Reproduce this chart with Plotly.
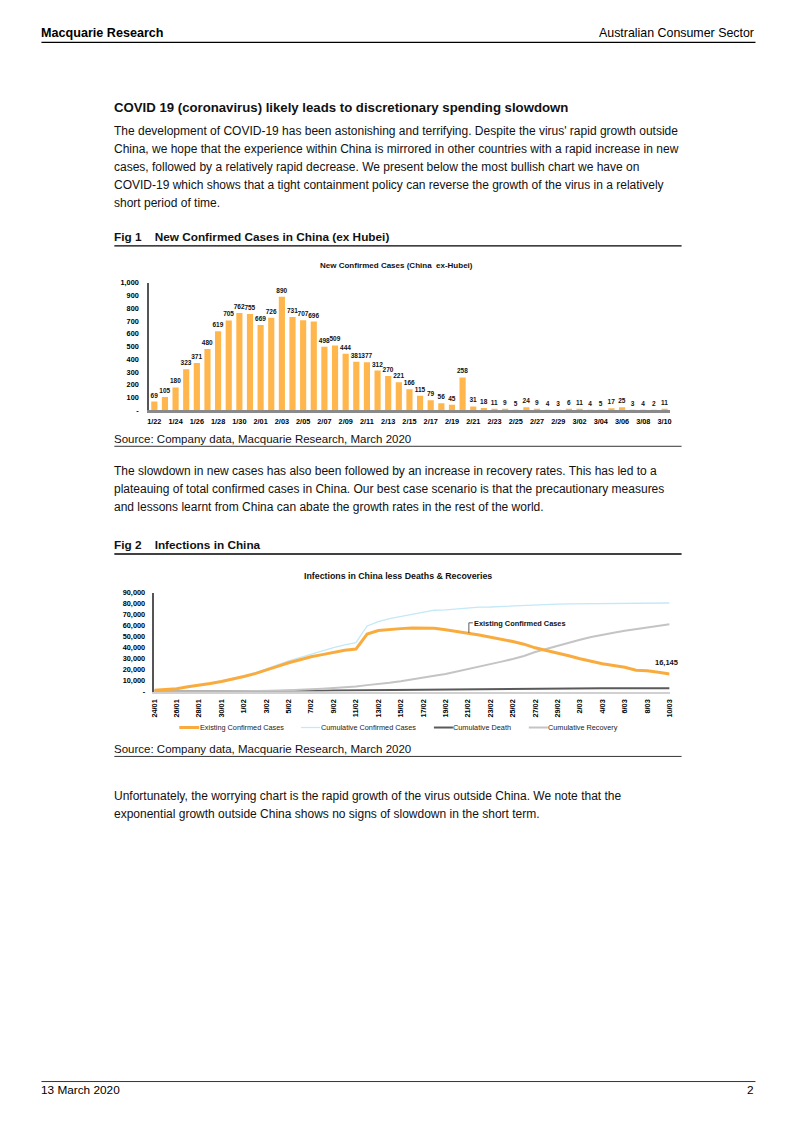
import plotly.graph_objects as go

W, H = 793, 1122

# ---------------- Fig 1 data ----------------
dates1 = ["1/22", "1/23", "1/24", "1/25", "1/26", "1/27", "1/28", "1/29", "1/30", "1/31",
          "2/01", "2/02", "2/03", "2/04", "2/05", "2/06", "2/07", "2/08", "2/09", "2/10",
          "2/11", "2/12", "2/13", "2/14", "2/15", "2/16", "2/17", "2/18", "2/19", "2/20",
          "2/21", "2/22", "2/23", "2/24", "2/25", "2/26", "2/27", "2/28", "2/29",
          "3/01", "3/02", "3/03", "3/04", "3/05", "3/06", "3/07", "3/08", "3/09", "3/10"]
new_cases = [69, 105, 180, 323, 371, 480, 619, 705, 762, 755,
             669, 726, 890, 731, 707, 696, 498, 509, 444, 381,
             377, 312, 270, 221, 166, 115, 79, 56, 45, 258,
             31, 18, 11, 9, 5, 24, 9, 4, 3,
             6, 11, 4, 5, 17, 25, 3, 4, 2, 11]
ticks1 = dates1[::2]
y1_vals = [0, 100, 200, 300, 400, 500, 600, 700, 800, 900, 1000]
y1_text = ["-", "100", "200", "300", "400", "500", "600", "700", "800", "900", "1,000"]

# ---------------- Fig 2 data ----------------
dates2 = ["24/01", "25/01", "26/01", "27/01", "28/01", "29/01", "30/01", "31/01",
          "1/02", "2/02", "3/02", "4/02", "5/02", "6/02", "7/02", "8/02", "9/02", "10/02",
          "11/02", "12/02", "13/02", "14/02", "15/02", "16/02", "17/02", "18/02", "19/02",
          "20/02", "21/02", "22/02", "23/02", "24/02", "25/02", "26/02", "27/02", "28/02",
          "29/02", "1/03", "2/03", "3/03", "4/03", "5/03", "6/03", "7/03", "8/03", "9/03",
          "10/03"]
cum_confirmed = [1287, 1975, 2744, 4515, 5974, 7711, 9692, 11791,
                 14380, 17205, 20438, 24324, 28018, 31161, 34546, 37198, 40171, 42638,
                 44653, 59804, 63851, 66492, 68500, 70548, 72436, 74185, 74576,
                 75465, 76288, 76936, 77150, 77658, 78064, 78497, 78824, 79251,
                 79824, 80026, 80151, 80270, 80409, 80552, 80651, 80695, 80735, 80754,
                 80778]
cum_death = [41, 56, 80, 106, 132, 170, 213, 259,
             304, 361, 425, 490, 563, 636, 722, 811, 908, 1016,
             1113, 1367, 1380, 1523, 1665, 1770, 1868, 2004, 2118,
             2236, 2345, 2442, 2592, 2663, 2715, 2744, 2788, 2835,
             2870, 2912, 2943, 2981, 3012, 3042, 3070, 3097, 3119, 3136,
             3158]
cum_recovery = [38, 49, 51, 60, 103, 124, 171, 243,
                328, 475, 632, 892, 1153, 1540, 2050, 2649, 3281, 3996,
                4740, 5911, 6723, 8096, 9419, 10844, 12552, 14376, 16155,
                18264, 20659, 22888, 24734, 27323, 29745, 32495, 36117, 39002,
                41625, 44462, 47204, 49856, 52045, 53726, 55404, 57065, 58600, 59897,
                61475]
existing = [1208, 1870, 2613, 4349, 5739, 7417, 9308, 11289,
            13748, 16369, 19381, 22942, 26302, 28985, 31774, 33738, 35982, 37626,
            38800, 52526, 55748, 56873, 57416, 57934, 58016, 57805, 56303,
            54965, 53284, 51606, 49824, 47672, 45604, 43258, 39919, 37414,
            35329, 32652, 30004, 27433, 25352, 23784, 22177, 19533, 19016, 17721,
            16145]
ticks2 = dates2[::2]
y2_vals = [0, 10000, 20000, 30000, 40000, 50000, 60000, 70000, 80000, 90000]
y2_text = ["-", "10,000", "20,000", "30,000", "40,000", "50,000", "60,000", "70,000",
           "80,000", "90,000"]
legend2 = ["Existing Confirmed Cases", "Cumulative Confirmed Cases", "Cumulative Death",
           "Cumulative Recovery"]

FONT = "Liberation Sans, Arial, sans-serif"
ORANGE_BAR = "#FFB74D"
ORANGE_LINE = "#F9AC3D"
BLUE = "#C3E8F8"
DARK = "#5A5A5A"
LIGHT = "#C4C4C4"

# page-pixel -> paper fraction (with small calibration for the capture)
OX, SX = 3.5, 0.99
OY, SY = 2.5, 0.9947


def X(px):
    return ((px - OX) / SX) / W


def Y(py):
    return 1 - ((py - OY) / SY) / H


fig = go.Figure()

fig.add_trace(go.Bar(
    x=dates1, y=new_cases, marker=dict(color=ORANGE_BAR, line=dict(width=0)),
    text=[str(v) for v in new_cases], textposition="outside", constraintext="none",
    textfont=dict(family=FONT, size=6.5, color="#111", weight="bold"),
    cliponaxis=False, xaxis="x", yaxis="y", showlegend=False, width=0.58))

fig.add_trace(go.Scatter(x=dates2, y=cum_confirmed, mode="lines",
                         line=dict(color=BLUE, width=1.3), xaxis="x2", yaxis="y2",
                         showlegend=False))
fig.add_trace(go.Scatter(x=dates2, y=cum_death, mode="lines",
                         line=dict(color=DARK, width=2), xaxis="x2", yaxis="y2",
                         showlegend=False))
fig.add_trace(go.Scatter(x=dates2, y=cum_recovery, mode="lines",
                         line=dict(color=LIGHT, width=2), xaxis="x2", yaxis="y2",
                         showlegend=False))
fig.add_trace(go.Scatter(x=dates2, y=existing, mode="lines",
                         line=dict(color=ORANGE_LINE, width=3), xaxis="x2", yaxis="y2",
                         showlegend=False))

tickfont_small = dict(family=FONT, size=7.3, color="#000", weight="bold")

fig.update_layout(
    width=W, height=H, margin=dict(l=0, r=0, t=0, b=0),
    paper_bgcolor="white", plot_bgcolor="rgba(0,0,0,0)",
    font=dict(family=FONT, color="#000"),
    xaxis=dict(domain=[X(147.7), X(669.3)], type="category", range=[-0.5, 48.5],
               tickmode="array", tickvals=ticks1, ticktext=ticks1, tickangle=0,
               showline=True, linecolor="#8A8A8A", linewidth=2.5, ticks="",
               showgrid=False, zeroline=False, tickfont=tickfont_small,
               ticklabelstandoff=2, anchor="y"),
    yaxis=dict(domain=[Y(410), Y(282)], range=[0, 1000], tickmode="array",
               tickvals=y1_vals, ticktext=y1_text, showline=True, linecolor="#555",
               linewidth=1.5, ticks="", showgrid=False, zeroline=False,
               tickfont=tickfont_small, ticklabelstandoff=7, anchor="x"),
    xaxis2=dict(domain=[X(153), X(669)], type="category", range=[0, 46],
                tickmode="array", tickvals=ticks2, ticktext=ticks2, tickangle=-90,
                showline=True, linecolor="#D0D0D0", linewidth=1.5, ticks="",
                showgrid=False, zeroline=False, tickfont=tickfont_small,
                ticklabelstandoff=3, anchor="y2"),
    yaxis2=dict(domain=[Y(692), Y(593)], range=[0, 90000], tickmode="array",
                tickvals=y2_vals, ticktext=y2_text, showline=True, linecolor="#555",
                linewidth=1.5, ticks="", showgrid=False, zeroline=False,
                tickfont=tickfont_small, ticklabelstandoff=6, anchor="x2"),
)

annotations = []
shapes = []


def text(t, x, y, size, bold=False, anchor="left", color="#111"):
    if anchor == "left":
        x -= 1.5
    elif anchor == "right":
        x += 1.0
    annotations.append(dict(
        text=("<b>%s</b>" % t) if bold else t, x=X(x), y=Y(y), xref="paper", yref="paper",
        xanchor=anchor, yanchor="middle", showarrow=False, borderpad=0,
        font=dict(family=FONT, size=size, color=color)))


def hline(x0, x1, y, width=1, color="#000"):
    shapes.append(dict(type="line", xref="paper", yref="paper", x0=X(x0), x1=X(x1),
                       y0=Y(y), y1=Y(y), line=dict(color=color, width=width)))


def vline(x, y0, y1, width=1, color="#000"):
    shapes.append(dict(type="line", xref="paper", yref="paper", x0=X(x), x1=X(x),
                       y0=Y(y0), y1=Y(y1), line=dict(color=color, width=width)))


# Header / footer
text("Macquarie Research", 40, 32, 12.6, bold=True, color="#000")
text("Australian Consumer Sector", 754, 32, 12.4, anchor="right", color="#000")
hline(40, 755, 41, 1.2)
hline(40, 755, 1083, 0.8)
text("13 March 2020", 40, 1091, 11.8, color="#000")
text("2", 754, 1091, 11.8, anchor="right", color="#000")

# Intro
text("COVID 19 (coronavirus) likely leads to discretionary spending slowdown", 113, 106, 13.2,
     bold=True)
p1 = ["The development of COVID-19 has been astonishing and terrifying. Despite the virus' rapid growth outside",
      "China, we hope that the experience within China is mirrored in other countries with a rapid increase in new",
      "cases, followed by a relatively rapid decrease. We present below the most bullish chart we have on",
      "COVID-19 which shows that a tight containment policy can reverse the growth of the virus in a relatively",
      "short period of time."]
for i, line in enumerate(p1):
    text(line, 113, 130 + 18 * i, 12)

# Fig 1 frame
text("Fig 1&#160;&#160;&#160;&#160;New Confirmed Cases in China (ex Hubei)", 113, 236, 11.8, bold=True)
hline(113, 681, 245, 1.3)
text("New Confirmed Cases (China  ex-Hubei)", 396, 265, 8, bold=True, anchor="center")
text("Source: Company data, Macquarie Research, March 2020", 113, 439, 11.5)
hline(113, 681, 446, 0.8)

p2 = ["The slowdown in new cases has also been followed by an increase in recovery rates. This has led to a",
      "plateauing of total confirmed cases in China. Our best case scenario is that the precautionary measures",
      "and lessons learnt from China can abate the growth rates in the rest of the world."]
for i, line in enumerate(p2):
    text(line, 113, 471 + 18 * i, 12)

# Fig 2 frame
text("Fig 2&#160;&#160;&#160;&#160;Infections in China", 113, 545, 11.8, bold=True)
hline(113, 681, 554, 1.3)
text("Infections in China less Deaths &amp; Recoveries", 397, 576, 8.8, bold=True, anchor="center")

# Callout for existing cases
vline(468, 623, 633, 0.8, "#333")
hline(468, 472, 623, 0.8, "#333")
text("Existing Confirmed Cases", 474, 624, 7.4, bold=True)
text("16,145", 677, 663, 7.5, bold=True, anchor="right")

# Legend (manual)
leg_cols = [ORANGE_LINE, BLUE, DARK, LIGHT]
leg_w = [3, 1.3, 2, 2]
leg_x = [(178, 198), (300, 319), (433, 452), (528, 547)]
for name, col, lw, (a, b) in zip(legend2, leg_cols, leg_w, leg_x):
    hline(a, b, 728, lw, col)
    text(name, b + 1, 728, 7.3, color="#222")

text("Source: Company data, Macquarie Research, March 2020", 113, 750, 11.5)
hline(113, 681, 757, 0.8)

p3 = ["Unfortunately, the worrying chart is the rapid growth of the virus outside China. We note that the",
      "exponential growth outside China shows no signs of slowdown in the short term."]
for i, line in enumerate(p3):
    text(line, 113, 797 + 18 * i, 12)

fig.update_layout(annotations=annotations, shapes=shapes)
fig.write_html("out.html", config={"displayModeBar": False},
               post_script="document.body.style.margin='0';document.body.style.padding='0';"
                           "document.documentElement.style.overflow='hidden';")
